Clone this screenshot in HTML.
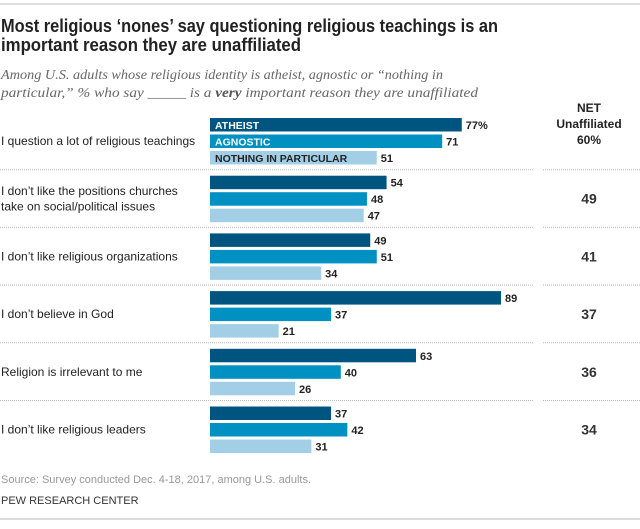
<!DOCTYPE html>
<html><head><meta charset="utf-8"><style>
body{margin:0;background:#fff;}
svg{display:block;font-family:"Liberation Sans",sans-serif;}
</style></head><body>
<svg id="chart" width="640" height="529" viewBox="0 0 640 529">
<line x1="0" y1="4" x2="640" y2="4" stroke="#bbb" stroke-width="1"/>
<text x="1" y="32" font-size="18" font-weight="bold" fill="#222" textLength="497" lengthAdjust="spacingAndGlyphs">Most religious ‘nones’ say questioning religious teachings is an</text>
<text x="1" y="51" font-size="18" font-weight="bold" fill="#222" textLength="300" lengthAdjust="spacingAndGlyphs">important reason they are unaffiliated</text>
<text x="1" y="79" font-size="14" font-style="italic" fill="#666" font-family="Liberation Serif,serif" textLength="442" lengthAdjust="spacingAndGlyphs">Among U.S. adults whose religious identity is atheist, agnostic or “nothing in</text>
<text x="1" y="97" font-size="14" font-style="italic" fill="#666" font-family="Liberation Serif,serif" textLength="477" lengthAdjust="spacingAndGlyphs">particular,” % who say _____ is a <tspan font-weight="bold" fill="#555">very</tspan> important reason they are unaffiliated</text>
<g font-size="12" font-weight="bold" fill="#222" text-anchor="middle">
<text x="589" y="112">NET</text>
<text x="589" y="128">Unaffiliated</text>
<text x="589" y="144">60%</text>
</g>
<g id="bars"></g>
<text x="1" y="483" font-size="11" fill="#999">Source: Survey conducted Dec. 4-18, 2017, among U.S. adults.</text>
<text x="1" y="504" font-size="11" fill="#333">PEW RESEARCH CENTER</text>
<line x1="0" y1="519" x2="640" y2="519" stroke="#bbb" stroke-width="1"/>
</svg>
<script>
const categories = [["I question a lot of religious teachings"],["I don’t like the positions churches","take on social/political issues"],["I don’t like religious organizations"],["I don’t believe in God"],["Religion is irrelevant to me"],["I don’t like religious leaders"]];
const atheist = [77,54,49,89,63,37];
const agnostic = [71,48,51,37,40,42];
const nothing = [51,47,34,21,26,31];
const net = [60,49,41,37,36,34];
const seriesNames = ["ATHEIST","AGNOSTIC","NOTHING IN PARTICULAR"];

const NS="http://www.w3.org/2000/svg";
const g=document.getElementById('bars');
const x0=210, k=3.27;
const xs=v=>x0+v*k;
const groupTop=i=>118+i*57.7;
const colors=["#005580","#0091c2","#a3cfe6"];
const series=[atheist,agnostic,nothing];
function mk(tag,attrs){const e=document.createElementNS(NS,tag);for(const a in attrs)e.setAttribute(a,attrs[a]);g.appendChild(e);return e;}
categories.forEach((cat,i)=>{
  const t=groupTop(i);
  if(i>0){
    const l1=mk('line',{x1:0,x2:533,y1:t-6,y2:t-6,stroke:'#bbb','stroke-dasharray':'1,1'});
    
    
    const l2=mk('line',{x1:543,x2:640,y1:t-6,y2:t-6,stroke:'#bbb','stroke-dasharray':'1,1'});
    
    
  }
  const mid=t+23;
  cat.forEach((line,j)=>{
    const tx=mk('text',{x:1,y:mid+4+(j-(cat.length-1)/2)*15.5,'font-size':12,fill:'#222'});
    tx.textContent=line;
    
    
  });
  series.forEach((s,j)=>{
    const y=t+j*16.5;
    const r=mk('rect',{x:x0,y:y,width:xs(s[i])-x0,height:13.5,fill:colors[j]});
    
    
    const v=mk('text',{x:xs(s[i])+4,y:y+11,'font-size':11,'font-weight':'bold',fill:'#222'});
    v.textContent=s[i]+(i===0&&j===0?'%':'');
    
    
    if(i===0){
      const lt=mk('text',{x:x0+5,y:y+11,'font-size':10.5,'font-weight':'bold',fill:j<2?'#fff':'#222'});
      lt.textContent=seriesNames[j];
      
      
    }
  });
  if(i>0){
    const n=mk('text',{x:589,y:mid+5,'font-size':14,'font-weight':'bold',fill:'#333','text-anchor':'middle'});
    n.textContent=net[i];
    
    
  }
});
</script>
</body></html>
